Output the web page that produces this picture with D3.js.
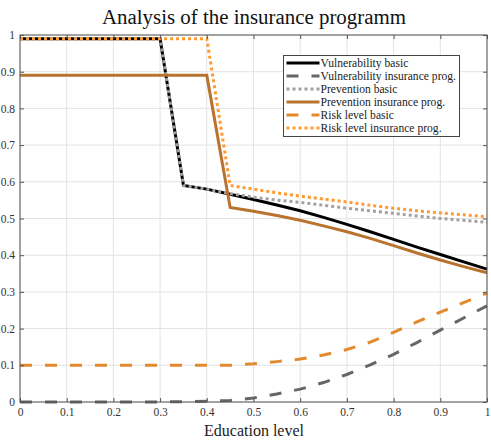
<!DOCTYPE html>
<html>
<head>
<meta charset="utf-8">
<script src="https://cdn.jsdelivr.net/npm/d3@7"></script>
<style>
  body { margin: 0; background: #fff; }
  text { font-family: "Liberation Serif", "DejaVu Serif", serif; }
</style>
</head>
<body>
<div id="chart"></div>
<script>
const xs = [0, 0.3, 0.35, 0.4, 0.45, 0.5, 0.55, 0.6, 0.65, 0.7, 0.75, 0.8, 0.85, 0.9, 0.95, 1];
const vulnBasic   = [0.99, 0.99, 0.59, 0.58, 0.566, 0.552, 0.537, 0.521, 0.503, 0.484, 0.464, 0.443, 0.422, 0.402, 0.382, 0.362];
const vulnIns     = [0, 0, 0.001, 0.002, 0.004, 0.011, 0.022, 0.035, 0.053, 0.075, 0.101, 0.13, 0.162, 0.196, 0.229, 0.262];
const prevBasic   = [0.99, 0.99, 0.59, 0.58, 0.568, 0.558, 0.55, 0.544, 0.536, 0.528, 0.521, 0.514, 0.507, 0.5, 0.495, 0.49];
const prevIns     = [0.89, 0.89, 0.89, 0.89, 0.53, 0.52, 0.508, 0.495, 0.48, 0.464, 0.446, 0.426, 0.406, 0.387, 0.369, 0.352];
const riskBasic   = [0.1, 0.1, 0.1, 0.1, 0.1, 0.104, 0.11, 0.117, 0.128, 0.143, 0.163, 0.19, 0.218, 0.245, 0.271, 0.297];
const riskIns     = [0.99, 0.99, 0.99, 0.99, 0.59, 0.58, 0.57, 0.561, 0.553, 0.545, 0.536, 0.528, 0.521, 0.515, 0.51, 0.505];
const seriesNames = ['Vulnerability basic', 'Vulnerability insurance prog.', 'Prevention basic',
  'Prevention insurance prog.', 'Risk level basic', 'Risk level insurance prog.'];
const xTicks = [0, 0.1, 0.2, 0.3, 0.4, 0.5, 0.6, 0.7, 0.8, 0.9, 1];
const yTicks = [0, 0.1, 0.2, 0.3, 0.4, 0.5, 0.6, 0.7, 0.8, 0.9, 1];

const styles = [
  { color: '#000000', dash: null },
  { color: '#666666', dash: '12,13' },
  { color: '#a0a0a0', dash: '3,3' },
  { color: '#b8732f', dash: null },
  { color: '#e38a2e', dash: '12,13' },
  { color: '#ff9a33', dash: '3,3' },
];
const values = [vulnBasic, vulnIns, prevBasic, prevIns, riskBasic, riskIns];

const W = 491, H = 442;
const margin = { top: 35, right: 4, bottom: 40, left: 20 };
const width = 487 - margin.left;
const height = 402 - margin.top;

const svg = d3.select('#chart').append('svg')
  .attr('width', W).attr('height', H);
const g = svg.append('g').attr('transform', `translate(${margin.left},${margin.top})`);

const x = d3.scaleLinear().domain([0, 1]).range([0, width]);
const y = d3.scaleLinear().domain([0, 1]).range([height, 0]);

// grid
g.append('g').selectAll('line').data(xTicks).enter().append('line')
  .attr('x1', d => x(d)).attr('x2', d => x(d)).attr('y1', 0).attr('y2', height)
  .attr('stroke', '#e3e3e3').attr('stroke-width', 1);
g.append('g').selectAll('line').data(yTicks).enter().append('line')
  .attr('y1', d => y(d)).attr('y2', d => y(d)).attr('x1', 0).attr('x2', width)
  .attr('stroke', '#e3e3e3').attr('stroke-width', 1);

// lines
const line = d3.line().x(d => x(d[0])).y(d => y(d[1]));
values.forEach((vals, i) => {
  g.append('path')
    .datum(xs.map((xv, j) => [xv, vals[j]]))
    .attr('fill', 'none')
    .attr('stroke', styles[i].color)
    .attr('stroke-width', 3)
    .attr('stroke-dasharray', styles[i].dash)
    .attr('d', line);
});

// axes (ticks inside, all four sides)
const axisColor = '#555';
const styleAxis = sel => {
  sel.select('.domain').remove();
  sel.selectAll('line').attr('stroke', axisColor);
  sel.selectAll('text').style('fill', '#333').style('font-size', '11.5px')
    .style('font-family', '"Liberation Serif", serif');
};
const fmt = d => String(d);
g.append('g').attr('transform', `translate(0,${height})`)
  .call(d3.axisBottom(x).tickValues(xTicks).tickFormat(fmt).tickSizeInner(-4).tickPadding(6))
  .call(styleAxis);
g.append('g')
  .call(d3.axisLeft(y).tickValues(yTicks).tickFormat(fmt).tickSizeInner(-4).tickPadding(5))
  .call(styleAxis);
g.append('g')
  .call(d3.axisTop(x).tickValues(xTicks).tickFormat('').tickSizeInner(-4))
  .call(styleAxis);
g.append('g').attr('transform', `translate(${width},0)`)
  .call(d3.axisRight(y).tickValues(yTicks).tickFormat('').tickSizeInner(-4))
  .call(styleAxis);
g.append('rect').attr('width', width).attr('height', height)
  .attr('fill', 'none').attr('stroke', axisColor).attr('stroke-width', 1);

// title and label
svg.append('text').attr('x', 254).attr('y', 24)
  .attr('text-anchor', 'middle').style('font-size', '20px').style('fill', '#111')
  .attr('textLength', 304).attr('lengthAdjust', 'spacingAndGlyphs')
  .text('Analysis of the insurance programm');
svg.append('text').attr('x', 254).attr('y', 436)
  .attr('text-anchor', 'middle').style('font-size', '16px').style('fill', '#222')
  .text('Education level');

// legend
const lg = svg.append('g').attr('transform', 'translate(283.5,55.5)');
lg.append('rect').attr('width', 176).attr('height', 81)
  .attr('fill', '#fff').attr('stroke', '#444').attr('stroke-width', 1);
seriesNames.forEach((name, i) => {
  const yy = 7.5 + i * 13;
  lg.append('line').attr('x1', 3).attr('x2', 36).attr('y1', yy).attr('y2', yy)
    .attr('stroke', styles[i].color).attr('stroke-width', 3)
    .attr('stroke-dasharray', styles[i].dash);
  lg.append('text').attr('x', 37).attr('y', yy + 4)
    .style('font-size', '11.6px').style('fill', '#222').text(name);
});
</script>
</body>
</html>
